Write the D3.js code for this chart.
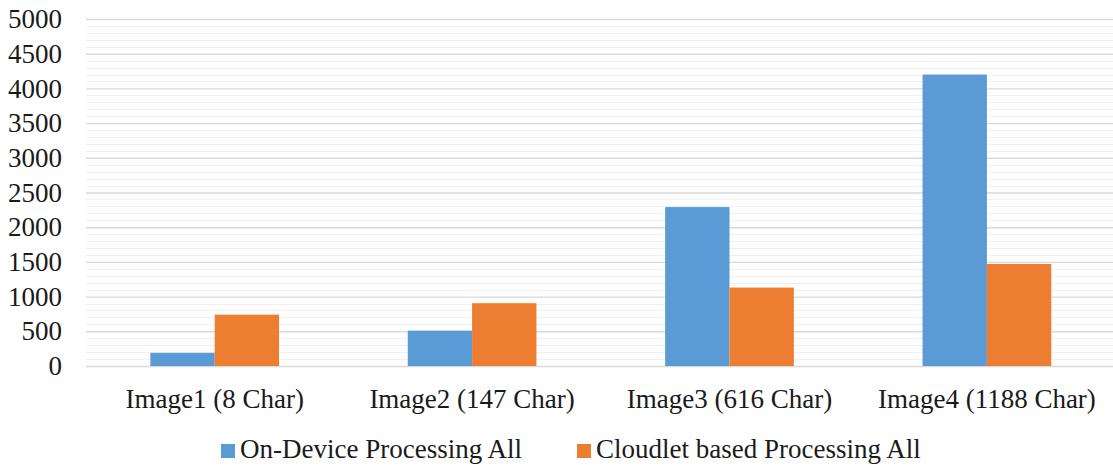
<!DOCTYPE html>
<html>
<head>
<meta charset="utf-8">
<script src="https://cdn.jsdelivr.net/npm/d3@7"></script>
<style>
  html, body { margin: 0; padding: 0; background: #fff; }
  svg { display: block; }
  text { font-family: "Liberation Serif", "Times New Roman", serif; fill: #1a1a1a; }
</style>
</head>
<body>
<svg id="chart" width="1113" height="465"></svg>
<script>
// Processing time per image, two processing modes
const categories = ["Image1 (8 Char)", "Image2 (147 Char)", "Image3 (616 Char)", "Image4 (1188 Char)"];
const seriesNames = ["On-Device Processing All", "Cloudlet based Processing All"];
const onDevice = [190, 510, 2290, 4200];
const cloudlet = [740, 905, 1130, 1470];
const yTicks = [0, 500, 1000, 1500, 2000, 2500, 3000, 3500, 4000, 4500, 5000];
const colors = ["#5b9bd5", "#ed7d31"];

const FONT = "Liberation Serif, Times New Roman, serif";
const FS = 27;

const svg = d3.select("#chart");
const plot = { left: 86, right: 1115.6, top: 19, bottom: 366 };

const y = d3.scaleLinear().domain([0, 5000]).range([plot.bottom, plot.top]);
const x0 = d3.scaleBand().domain(categories).range([plot.left, plot.right]).padding(0);
const x1 = d3.scaleBand().domain(seriesNames)
  .range([x0.bandwidth() / 4, x0.bandwidth() * 3 / 4]).padding(0);

// minor gridlines every 100
const minor = d3.range(0, 5001, 100).filter(v => v % 500 !== 0);
svg.append("g").selectAll("line").data(minor).join("line")
  .attr("x1", plot.left).attr("x2", plot.right)
  .attr("y1", d => Math.round(y(d)) + 0.5).attr("y2", d => Math.round(y(d)) + 0.5)
  .attr("stroke", "#f0f0f0").attr("stroke-width", 1);

// major gridlines and tick labels
const yAxis = d3.axisLeft(y).tickValues(yTicks).tickFormat(d3.format("d"))
  .tickSize(-(plot.right - plot.left)).tickPadding(24);
const gy = svg.append("g").attr("transform", `translate(${plot.left},0)`).call(yAxis)
  .attr("font-family", FONT).attr("font-size", FS);
gy.select(".domain").remove();
gy.selectAll(".tick line").attr("stroke", "#d9d9d9").attr("stroke-width", 1.4);
gy.selectAll(".tick text").attr("fill", "#1a1a1a");

// bars
const rows = categories.map((c, i) => ({ cat: c, vals: [onDevice[i], cloudlet[i]] }));
const groups = svg.append("g").selectAll("g").data(rows).join("g")
  .attr("transform", d => `translate(${x0(d.cat)},0)`);
groups.selectAll("rect")
  .data(d => d.vals.map((v, k) => ({ name: seriesNames[k], v, k })))
  .join("rect")
  .attr("x", d => x1(d.name))
  .attr("width", x1.bandwidth())
  .attr("y", d => y(d.v))
  .attr("height", d => y(0) - y(d.v))
  .attr("fill", d => colors[d.k]);

// category labels
const xAxis = d3.axisBottom(x0).tickSize(0).tickPadding(23);
const gx = svg.append("g").attr("transform", `translate(0,${plot.bottom})`).call(xAxis)
  .attr("font-family", FONT).attr("font-size", FS);
gx.select(".domain").remove();
gx.selectAll(".tick text").attr("fill", "#1a1a1a");

// legend
const legendItems = [
  { x: 221, name: seriesNames[0], c: colors[0] },
  { x: 577, name: seriesNames[1], c: colors[1] }
];
const lg = svg.append("g").attr("font-family", FONT).attr("font-size", FS);
legendItems.forEach(it => {
  lg.append("rect").attr("x", it.x).attr("y", 444).attr("width", 14).attr("height", 14).attr("fill", it.c);
  lg.append("text").attr("x", it.x + 19).attr("y", 458).text(it.name);
});
</script>
</body>
</html>
